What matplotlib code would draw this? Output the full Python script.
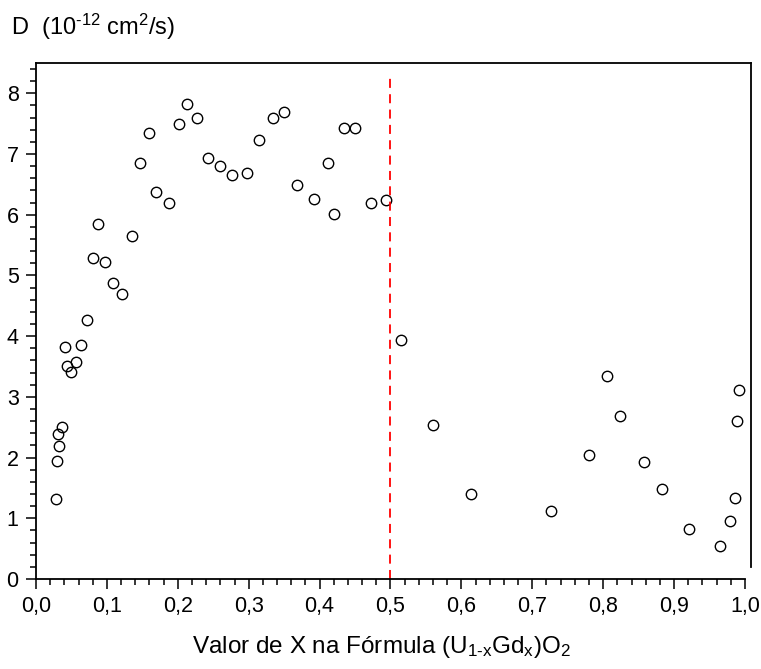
import matplotlib
matplotlib.use('Agg')
import matplotlib.pyplot as plt
from matplotlib.ticker import MultipleLocator, FuncFormatter

plt.rcParams['font.family'] = ['Liberation Sans', 'DejaVu Sans']
plt.rcParams['mathtext.fontset'] = 'custom'
plt.rcParams['mathtext.rm'] = 'Liberation Sans'
plt.rcParams['mathtext.it'] = 'Liberation Sans:italic'

# ===== dados
x_gd = [0.028, 0.029, 0.031, 0.033, 0.037, 0.041, 0.044, 0.050, 0.056, 0.064,
        0.072, 0.080, 0.087, 0.097, 0.108, 0.121, 0.136, 0.147, 0.159, 0.169,
        0.187, 0.201, 0.213, 0.227, 0.243, 0.260, 0.277, 0.298, 0.315, 0.334,
        0.350, 0.368, 0.392, 0.412, 0.421, 0.435, 0.450, 0.472, 0.494, 0.515,
        0.560, 0.614, 0.726, 0.780, 0.806, 0.824, 0.857, 0.883, 0.921, 0.965,
        0.979, 0.986, 0.989, 0.991]
d_val = [1.31, 1.95, 2.39, 2.19, 2.51, 3.82, 3.51, 3.41, 3.57, 3.85,
         4.27, 5.28, 5.84, 5.22, 4.88, 4.69, 5.65, 6.86, 7.34, 6.37,
         6.19, 7.50, 7.82, 7.60, 6.94, 6.80, 6.65, 6.68, 7.23, 7.59,
         7.69, 6.49, 6.26, 6.86, 6.01, 7.43, 7.43, 6.19, 6.25, 3.94,
         2.53, 1.40, 1.12, 2.04, 3.34, 2.68, 1.93, 1.49, 0.83, 0.55,
         0.95, 1.33, 2.60, 3.12]
x_linha = 0.5
linha_topo = 8.27

fig = plt.figure(figsize=(7.61, 6.69), dpi=100)
ax = fig.add_axes([36/761, 90/669, 715/761, 516/669])

ax.plot(x_gd, d_val, 'o', mfc='none', mec='black', ms=7.5, mew=1.0, clip_on=False)
ax.plot([x_linha, x_linha], [0, linha_topo], color='red', ls=(0, (5, 3.5)), lw=1.3)

ax.set_xlim(0, 1.0085)
ax.set_ylim(0, 8.5)
ax.xaxis.set_major_locator(MultipleLocator(0.1))
ax.xaxis.set_minor_locator(MultipleLocator(0.02))
ax.yaxis.set_major_locator(MultipleLocator(1))
ax.yaxis.set_minor_locator(MultipleLocator(0.2))
ax.xaxis.set_major_formatter(FuncFormatter(lambda v, p: ('%.1f' % v).replace('.', ',')))
ax.yaxis.set_major_formatter(FuncFormatter(lambda v, p: '%d' % round(v)))

ax.tick_params(which='major', direction='out', length=7.5, width=1.1, labelsize=15.5, pad=5)
ax.tick_params(which='minor', direction='out', length=4, width=1.1)
ax.tick_params(top=False, right=False)

for s in ax.spines.values():
    s.set_linewidth(1.3)
ax.spines['bottom'].set_bounds(0, 1.0)
ax.spines['right'].set_bounds(0.2, 8.5)

ax.set_xlabel(r'Valor de X na Fórmula (U$_{\mathrm{1\text{-}x}}$Gd$_{\mathrm{x}}$)O$_{2}$',
              fontsize=17.5)
ax.xaxis.set_label_coords(0.483, -0.107)
fig.text(11/761, 1 - 35/669, r'D  (10$^{\text{-}12}$ cm$^{2}$/s)', fontsize=17, ha='left', va='baseline')

fig.savefig('out.png', dpi=100)
